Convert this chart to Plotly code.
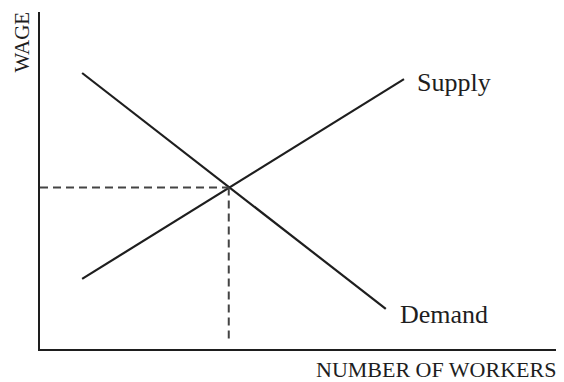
import plotly.graph_objects as go

# Datos (unidades arbitrarias, ejes 0-10)
demanda_x = [0.81, 6.65]
demanda_y = [8.19, 1.19]
oferta_x = [0.81, 7.0]
oferta_y = [2.08, 8.01]
equilibrio = (3.63, 4.79)
etiquetas = {"oferta": "Supply", "demanda": "Demand"}
titulo_x = "NUMBER OF WORKERS"
titulo_y = "WAGE"

FUENTE = "Liberation Serif, Times New Roman, serif"
NEGRO = "#1e1e1e"

fig = go.Figure()

# Curvas de oferta y demanda
fig.add_trace(go.Scatter(x=demanda_x, y=demanda_y, mode="lines",
                         line=dict(color=NEGRO, width=2.2), showlegend=False))
fig.add_trace(go.Scatter(x=oferta_x, y=oferta_y, mode="lines",
                         line=dict(color=NEGRO, width=2.2), showlegend=False))

# Líneas punteadas hacia los ejes
fig.add_trace(go.Scatter(x=[0, equilibrio[0]], y=[equilibrio[1], equilibrio[1]],
                         mode="lines", line=dict(color="#444444", width=2, dash="8px,5px"),
                         showlegend=False))
fig.add_trace(go.Scatter(x=[equilibrio[0], equilibrio[0]], y=[equilibrio[1], 0.18],
                         mode="lines", line=dict(color="#444444", width=2, dash="8px,5px"),
                         showlegend=False))

# Etiquetas de las curvas
fig.add_annotation(x=oferta_x[-1], y=oferta_y[-1], text=etiquetas["oferta"],
                   showarrow=False, xanchor="left", yanchor="middle", xshift=11, yshift=-3,
                   font=dict(family=FUENTE, size=26, color=NEGRO))
fig.add_annotation(x=demanda_x[-1], y=demanda_y[-1], text=etiquetas["demanda"],
                   showarrow=False, xanchor="left", yanchor="middle", xshift=12, yshift=-6,
                   font=dict(family=FUENTE, size=26, color=NEGRO))

# Títulos de los ejes
fig.add_annotation(x=1, y=0, xref="paper", yref="paper", text=titulo_x,
                   showarrow=False, xanchor="right", yanchor="top", yshift=-6, xshift=-2,
                   font=dict(family=FUENTE, size=22, color=NEGRO))
fig.add_annotation(x=0, y=1, xref="paper", yref="paper", text=titulo_y,
                   showarrow=False, textangle=-90, xanchor="center", yanchor="top",
                   xshift=-19, yshift=2, font=dict(family=FUENTE, size=21, color=NEGRO))

fig.update_layout(
    width=556, height=374,
    margin=dict(l=32, r=4, t=4, b=33),
    plot_bgcolor="white", paper_bgcolor="white",
    xaxis=dict(range=[0, 10], showgrid=False, zeroline=False, showticklabels=False,
               ticks="", showline=True, linecolor=NEGRO, linewidth=2),
    yaxis=dict(range=[0, 10], showgrid=False, zeroline=False, showticklabels=False,
               ticks="", showline=True, linecolor=NEGRO, linewidth=2),
)

fig.write_html("out.html")
